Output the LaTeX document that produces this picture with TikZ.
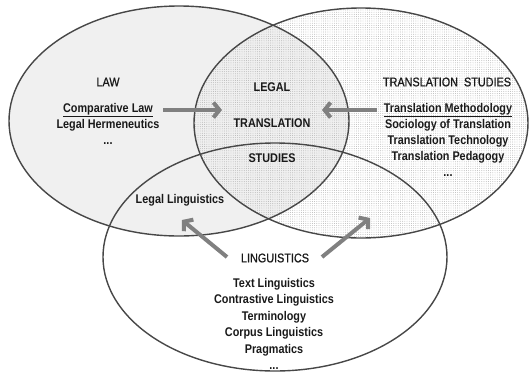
\documentclass[tikz,border=0pt]{standalone}
\usepackage{fontspec}
\setmainfont{Liberation Sans}
\usetikzlibrary{math,arrows.meta,patterns.meta}

\tikzset{
  venn/.style={draw=black!72, line width=1.4pt},
  arr/.style={draw=black!50, line width=4pt, -{Straight Barb[length=6pt,width=15pt]}},
  lbl/.style={font=\fontsize{12.6}{16}\selectfont\bfseries, align=center, text=black!90, transform shape, xscale=0.86},
  head/.style={font=\fontsize{12.6}{16}\selectfont\addfontfeature{FakeBold=0.8}, text=black!90, transform shape, xscale=0.86},
}

\begin{document}
\begin{tikzpicture}[x=1pt,y=-1pt]
            \tikzmath{\lawX = 179; \lawY = 121; \tsX = 361; \tsY = 123; \linX = 275; \linY = 257; \rx = 170; \ry = 115;}
            \useasboundingbox (0,0) rectangle (531,373);

            \fill[gray!12] (\lawX,\lawY) ellipse ({\rx} and {\ry});
            \fill[pattern={Dots[distance=2.2pt,radius=0.45pt]}, pattern color=black!32] (\tsX,\tsY) ellipse ({\rx - 3} and {\ry});

            \draw[venn] (\lawX,\lawY) ellipse ({\rx} and {\ry});
            \draw[venn] (\tsX,\tsY) ellipse ({\rx - 3} and {\ry});
            \draw[venn] (\linX,\linY) ellipse ({\rx + 2} and {\ry - 1});

            \node[head] (LAW) at (108,82) {LAW};
            \node[lbl] (LAWL) at (108,124) {\underline{Comparative Law}\\Legal Hermeneutics\\...};
            \node[head] (TS) at (447,82) {TRANSLATION\ \ STUDIES};
            \node[lbl] (TSL) at (448,140) {\underline{Translation Methodology}\\Sociology of Translation\\Translation Technology\\Translation Pedagogy\\...};
            \node[lbl, font=\fontsize{12.6}{35.5}\selectfont\bfseries] (LTS) at (272,123) {LEGAL\\TRANSLATION\\STUDIES};
            \node[lbl] (LL) at (180,200) {Legal Linguistics};
            \node[head] (LING) at (275,258) {LINGUISTICS};
            \node[lbl, font=\fontsize{12.6}{16.4}\selectfont\bfseries] (LINGL) at (274,324) {Text Linguistics\\Contrastive Linguistics\\Terminology\\Corpus Linguistics\\Pragmatics\\...};

            \coordinate (A) at (163,110);
            \coordinate (B) at (222,110);
            \draw[arr] (A)--(B);
            \coordinate (C) at (377,110);
            \coordinate (D) at (322,110);
            \draw[arr] (C)--(D);
            \coordinate (E) at (227,257);
            \coordinate (F) at (182,220);
            \draw[arr] (E)--(F);
            \coordinate (G) at (322,257);
            \coordinate (H) at (370,218);
            \draw[arr] (G)--(H);
        \end{tikzpicture}
\end{document}
